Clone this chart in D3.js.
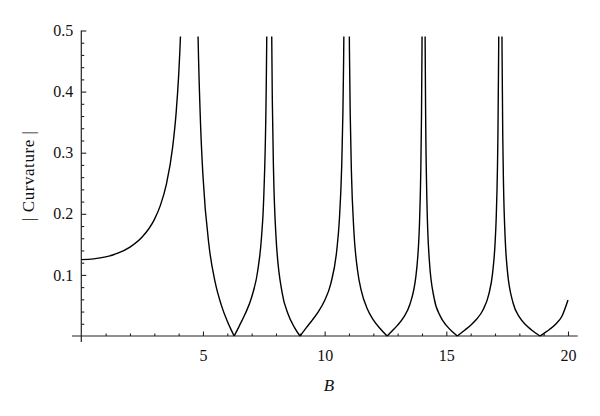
<!DOCTYPE html>
<html>
<head>
<meta charset="utf-8">
<script src="https://cdn.jsdelivr.net/npm/d3@7"></script>
<style>
  body { margin: 0; background: #fff; }
  svg { display: block; }
  .tick text { font-family: "Liberation Serif", serif; font-size: 16px; fill: #111; }
  .tick line { stroke: #222; stroke-width: 1.1; }
  .axis-line { stroke: #222; stroke-width: 1.2; }
  .curve { fill: none; stroke: #000; stroke-width: 1.4; }
  .label { font-family: "Liberation Serif", serif; font-size: 16px; fill: #111; }
</style>
</head>
<body>
<div id="viz"></div>
<script>
// |curvature| vs B, one array per branch (split at the poles and at the zeros)
var branch01 = [[0, 0.125], [0.5, 0.1262], [1, 0.1294], [1.5, 0.1355], [2, 0.1455], [2.5, 0.1619], [3, 0.1905], [3.25, 0.2138], [3.5, 0.2490], [3.75, 0.3078], [3.9, 0.3669], [4.0, 0.4262], [4.05, 0.4659], [4.1, 0.5156]];
var branch02 = [[4.75, 0.5962], [4.8, 0.4860], [4.9, 0.3466], [5.0, 0.2620], [5.25, 0.1473], [5.5, 0.0881], [5.75, 0.0510], [6.0, 0.0242], [6.15, 0.0109], [6.2832, 0]];
var branch03 = [[6.2832, 0], [6.5, 0.0170], [6.75, 0.0375], [7.0, 0.0635], [7.25, 0.1068], [7.4, 0.1592], [7.5, 0.2298], [7.6, 0.4093], [7.62, 0.4856], [7.65, 0.6757]];
var branch04 = [[7.80, 0.6543], [7.82, 0.5127], [7.85, 0.3852], [7.9, 0.2694], [8.0, 0.1632], [8.25, 0.0715], [8.5, 0.0356], [8.75, 0.0146], [8.987, 0]];
var branch05 = [[8.987, 0], [9.25, 0.0138], [9.5, 0.0264], [9.75, 0.0403], [10.0, 0.0581], [10.25, 0.0854], [10.5, 0.1411], [10.6, 0.1873], [10.7, 0.2773], [10.75, 0.3655], [10.78, 0.4522], [10.8, 0.5377]];
var branch06 = [[11.0, 0.5631], [11.02, 0.4637], [11.05, 0.3656], [11.1, 0.2686], [11.2, 0.1724], [11.35, 0.1080], [11.5, 0.0750], [11.75, 0.0446], [12.0, 0.0264], [12.25, 0.0134], [12.566, 0]];
var branch07 = [[12.566, 0], [12.8, 0.0093], [13.0, 0.0178], [13.25, 0.0310], [13.5, 0.0515], [13.75, 0.0979], [13.8, 0.1169], [13.9, 0.1879], [13.95, 0.2684], [13.98, 0.3611], [14.0, 0.4695], [14.01, 0.5525]];
var branch08 = [[14.12, 0.5681], [14.13, 0.4782], [14.15, 0.3626], [14.2, 0.2245], [14.3, 0.1247], [14.5, 0.0615], [14.75, 0.0325], [15.0, 0.0173], [15.25, 0.0069], [15.45, 0]];
var branch09 = [[15.45, 0], [15.75, 0.0094], [16.0, 0.0177], [16.25, 0.0278], [16.5, 0.0422], [16.75, 0.0688], [16.9, 0.1026], [17.0, 0.1495], [17.05, 0.1932], [17.1, 0.2728], [17.12, 0.3265], [17.15, 0.4640], [17.16, 0.5400]];
var branch10 = [[17.28, 0.5461], [17.29, 0.4665], [17.32, 0.3239], [17.35, 0.2474], [17.42, 0.1581], [17.5, 0.1106], [17.75, 0.0532], [18.0, 0.0312], [18.25, 0.0187], [18.5, 0.0099], [18.85, 0]];
var branch11 = [[18.85, 0], [19.0, 0.0040], [19.25, 0.0110], [19.5, 0.0196], [19.75, 0.0324], [20.0, 0.0589]];

var branches = [branch01, branch02, branch03, branch04, branch05, branch06, branch07, branch08, branch09, branch10, branch11];

var xMajor = [5, 10, 15, 20];
var xMinor = d3.range(1, 20).filter(function(d){ return d % 5 != 0; });
var yMajor = [0.1, 0.2, 0.3, 0.4, 0.5];
var yMinor = [0.02, 0.04, 0.06, 0.08, 0.12, 0.14, 0.16, 0.18, 0.22, 0.24, 0.26, 0.28, 0.32, 0.34, 0.36, 0.38, 0.42, 0.44, 0.46, 0.48];

var width = 600, height = 416;
var svg = d3.select("#viz").append("svg").attr("width", width).attr("height", height);

var x = d3.scaleLinear().domain([0, 20]).range([81.3, 568]);
var y = d3.scaleLinear().domain([0, 0.5]).range([336, 30.5]);

// x axis
var gx = svg.append("g").attr("transform", "translate(0," + y(0) + ")");
gx.append("line")
    .attr("class", "axis-line")
    .attr("x1", x(-0.38)).attr("x2", x(20.4));
gx.append("g")
    .call(d3.axisBottom(x).tickValues(xMinor).tickSize(-2.5).tickFormat(""))
    .call(function(g){ g.select(".domain").remove(); });
gx.append("g")
    .call(d3.axisBottom(x).tickValues(xMajor).tickSize(-4.5).tickPadding(14).tickFormat(d3.format("d")))
    .call(function(g){ g.select(".domain").remove(); });

// y axis
var gy = svg.append("g").attr("transform", "translate(" + x(0) + ",0)");
gy.append("line")
    .attr("class", "axis-line")
    .attr("y1", y(0.5)).attr("y2", y(-0.01));
gy.append("g")
    .call(d3.axisLeft(y).tickValues(yMinor).tickSize(-3).tickFormat(""))
    .call(function(g){ g.select(".domain").remove(); });
gy.append("g")
    .call(d3.axisLeft(y).tickValues(yMajor).tickSize(-5).tickPadding(8).tickFormat(d3.format(".1f")))
    .call(function(g){ g.select(".domain").remove(); });

// curve, clipped just under the top of the range
svg.append("clipPath").attr("id", "clip")
  .append("rect")
    .attr("x", x(-0.5)).attr("y", y(0.49))
    .attr("width", x(20.5) - x(-0.5)).attr("height", y(0) - y(0.49) + 5);

var line = d3.line()
    .x(function(d){ return x(d[0]); })
    .y(function(d){ return y(d[1]); })
    .curve(d3.curveMonotoneX);

svg.append("g").attr("clip-path", "url(#clip)")
  .selectAll("path")
  .data(branches)
  .enter().append("path")
    .attr("class", "curve")
    .attr("d", line);

// labels
svg.append("text")
    .attr("class", "label")
    .attr("x", 329).attr("y", 391)
    .attr("text-anchor", "middle")
    .style("font-style", "italic")
    .style("font-size", "17px")
    .text("B");

svg.append("text")
    .attr("class", "label")
    .attr("transform", "translate(34,176) rotate(-90)")
    .attr("text-anchor", "middle")
    .style("font-size", "17px")
    .attr("textLength", 90)
    .attr("lengthAdjust", "spacing")
    .text("| Curvature |");
</script>
</body>
</html>
